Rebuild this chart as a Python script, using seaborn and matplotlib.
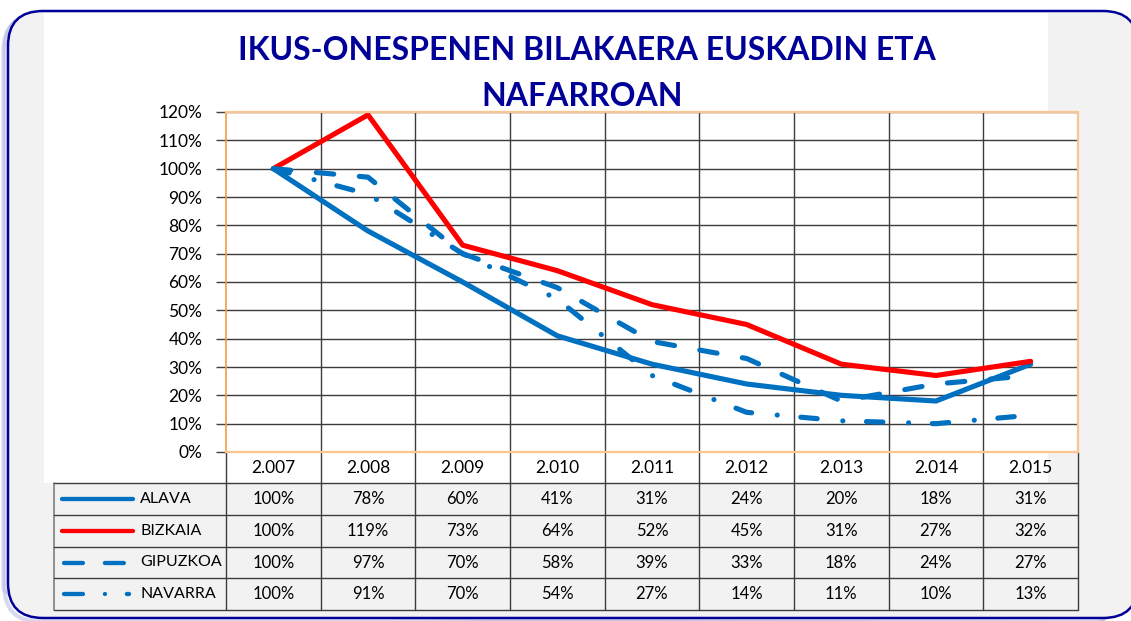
import numpy as np
import pandas as pd
import matplotlib
matplotlib.use("Agg")
import matplotlib.pyplot as plt
import matplotlib.transforms as mtrans
from matplotlib.patches import FancyBboxPatch, Rectangle
from matplotlib.lines import Line2D
import seaborn as sns

# ---------------- data ----------------
years = ["2.007", "2.008", "2.009", "2.010", "2.011", "2.012", "2.013", "2.014", "2.015"]
regions = ["ALAVA", "BIZKAIA", "GIPUZKOA", "NAVARRA"]
alava = [100, 78, 60, 41, 31, 24, 20, 18, 31]
bizkaia = [100, 119, 73, 64, 52, 45, 31, 27, 32]
gipuzkoa = [100, 97, 70, 58, 39, 33, 18, 24, 27]
navarra = [100, 91, 70, 54, 27, 14, 11, 10, 13]
series = {"ALAVA": alava, "BIZKAIA": bizkaia, "GIPUZKOA": gipuzkoa, "NAVARRA": navarra}
title_lines = ["IKUS-ONESPENEN BILAKAERA EUSKADIN ETA", "NAFARROAN"]

# ---------------- styles ----------------
BLUE = "#0070C0"
RED = "#FF0000"
NAVY = "#000099"
palette = {"ALAVA": BLUE, "BIZKAIA": RED, "GIPUZKOA": BLUE, "NAVARRA": BLUE}
dashes = {"ALAVA": "", "BIZKAIA": "", "GIPUZKOA": (3.4, 5.0),
          "NAVARRA": (3.2, 5.0, 0.01, 4.6)}
key_dashes = {"ALAVA": "", "BIZKAIA": "", "GIPUZKOA": (4.4, 5.1),
              "NAVARRA": (4.4, 5.1, 0.01, 5.1)}
key_span = {"ALAVA": (62, 133), "BIZKAIA": (62, 133), "GIPUZKOA": (64, 125),
            "NAVARRA": (64, 128.5)}
LW = 3.7
KEY_LW = 3.1

df = pd.DataFrame([(r, i, v) for r in regions for i, v in enumerate(series[r])],
                  columns=["region", "pos", "value"])

sns.set_theme(style="white")
plt.rcParams["font.family"] = ["Lato", "DejaVu Sans"]

W, H = 1131, 621
fig = plt.figure(figsize=(W / 100, H / 100), dpi=100)
fig.patch.set_facecolor("white")

# background / frame axes in pixel coordinates
bg = fig.add_axes([0, 0, 1, 1])
bg.set_xlim(0, W)
bg.set_ylim(H, 0)
bg.axis("off")

# shadow + rounded frame
for off, a in [(5, 0.10), (3.5, 0.18)]:
    shadow = FancyBboxPatch((8 - off, 11 + off), 1130, 607, boxstyle="round,pad=0,rounding_size=35",
                            facecolor="none", edgecolor="#2a2aa8", lw=3, alpha=a)
    bg.add_patch(shadow)
frame = FancyBboxPatch((8, 11), 1130, 607, boxstyle="round,pad=0,rounding_size=35",
                       facecolor="#F2F2F2", edgecolor=NAVY, lw=1.8)
bg.add_patch(frame)
bg.add_patch(Rectangle((44, 12.5), 1004, 470.5, facecolor="white", edgecolor="none"))

# title
bg.text(587, 50, title_lines[0], ha="center", va="center", fontsize=23,
        fontweight="bold", color=NAVY)
bg.text(582, 97, title_lines[1], ha="center", va="center", fontsize=23,
        fontweight="bold", color=NAVY)

# main plot axes
L, R, T, B = 226, 1078, 112, 452
ax = fig.add_axes([L / W, (H - B) / H, (R - L) / W, (B - T) / H])
ax.set_zorder(2)
ax.set_facecolor("white")
sns.lineplot(data=df, x="pos", y="value", hue="region", style="region",
             palette=palette, dashes=dashes, linewidth=LW, estimator=None,
             sort=False, legend=False, ax=ax,
             dash_capstyle="round", solid_capstyle="round")
ax.set_xlim(-0.5, len(years) - 0.5)
ax.set_ylim(0, 120)
ax.set_yticks(np.arange(0, 121, 10))
ax.set_yticklabels([f"{v}%" for v in range(0, 121, 10)], fontsize=12.5, color="black")
ax.set_xticks(range(len(years)))
ax.set_xticklabels(years, fontsize=12.5, color="black")
ax.set_xticks(np.arange(0.5, len(years) - 1, 1), minor=True)
ax.tick_params(axis="y", which="major", length=7, width=1, color="#404040",
               direction="out", pad=10, left=True)
ax.tick_params(axis="x", which="both", length=0, pad=6)
ax.grid(axis="y", which="major", color="#3c3c3c", lw=1)
ax.grid(axis="x", which="minor", color="#3c3c3c", lw=1)
ax.set_axisbelow(True)
ax.set_xlabel("")
ax.set_ylabel("")
for name, sp in ax.spines.items():
    sp.set_visible(True)
    sp.set_color("#FBC58E")
    sp.set_linewidth(1.6)
ax.spines["left"].set_color("#F5A040")
ax.spines["left"].set_linewidth(1.2)

# ---------------- data table ----------------
fig.canvas.draw()
blend = mtrans.blended_transform_factory(ax.transData, bg.transData)
row_edges = [482.7, 514.7, 546.7, 578.3, 610]
grid_c = "#3c3c3c"
for k in range(len(years) + 1):
    bg.plot([k - 0.5, k - 0.5], [B, 610], transform=blend, color=grid_c, lw=1, zorder=3)
bg.plot([54, 54], [row_edges[0], 610], color="#7f7f7f", lw=1.2, zorder=3)
for y in row_edges:
    bg.plot([54, R], [y, y], color=grid_c, lw=1, zorder=3)

for i, r in enumerate(regions):
    yc = (row_edges[i] + row_edges[i + 1]) / 2
    x0, x1 = key_span[r]
    key = Line2D([x0, x1], [yc, yc], color=palette[r], lw=KEY_LW,
                 solid_capstyle="round", dash_capstyle="round", zorder=4)
    if key_dashes[r]:
        key.set_dashes(key_dashes[r])
    bg.add_line(key)
    bg.text(140, yc, r, ha="left", va="center", fontsize=11.5, color="black")
    for k, v in enumerate(series[r]):
        bg.text(k, yc, f"{v}%", transform=blend, ha="center", va="center",
                fontsize=12, color="black")

fig.savefig("out.png", dpi=100, facecolor="white")
